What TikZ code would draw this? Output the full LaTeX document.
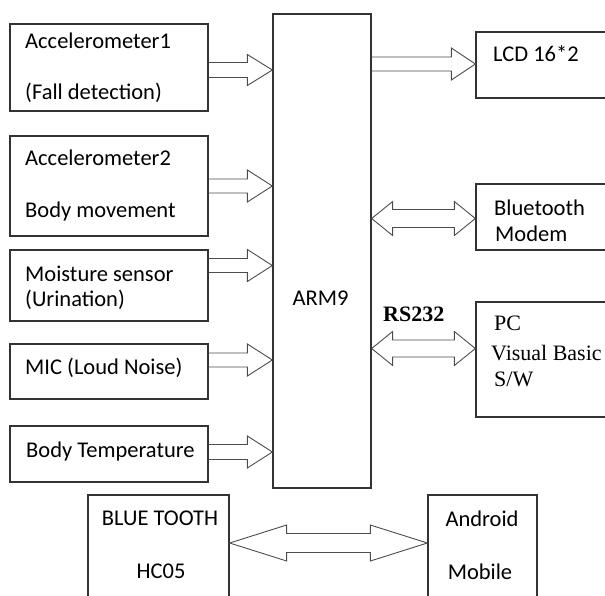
\documentclass[tikz,border=0pt]{standalone}
\usepackage{fontspec}
\setmainfont{Carlito}
\newfontfamily\seriffam{Liberation Serif}
\usetikzlibrary{calc}

\tikzset{
  box/.style={draw=black!80, line width=1.3pt, inner sep=0pt, rectangle},
  lbl/.style={anchor=base west, inner sep=0pt, font=\fontsize{22.5}{26}\selectfont},
  clbl/.style={anchor=base, inner sep=0pt, font=\fontsize{22.5}{26}\selectfont},
  slbl/.style={anchor=base west, inner sep=0pt, font=\seriffam\fontsize{22}{26}\selectfont},
  arr/.style={draw=black!70, line width=0.9pt, line join=miter},
}

% single block arrow: start, end, shaft half, head half, head length
\newcommand{\sarrow}[5]{%
  \draw[arr] let \p1=(#1), \p2=(#2) in
    (\x1,\y1+#3pt) -- (\x2-#5pt,\y1+#3pt) -- (\x2-#5pt,\y1+#4pt) -- (\x2,\y1)
    -- (\x2-#5pt,\y1-#4pt) -- (\x2-#5pt,\y1-#3pt) -- (\x1,\y1-#3pt);}
% double block arrow
\newcommand{\darrow}[5]{%
  \draw[arr] let \p1=(#1), \p2=(#2) in
    (\x1,\y1) -- (\x1+#5pt,\y1+#4pt) -- (\x1+#5pt,\y1+#3pt) -- (\x2-#5pt,\y1+#3pt)
    -- (\x2-#5pt,\y1+#4pt) -- (\x2,\y1) -- (\x2-#5pt,\y1-#4pt) -- (\x2-#5pt,\y1-#3pt)
    -- (\x1+#5pt,\y1-#3pt) -- (\x1+#5pt,\y1-#4pt) -- cycle;}

\begin{document}
\begin{tikzpicture}[x=1pt, y=-1pt]
\useasboundingbox (0,0) rectangle (605,595);
\clip (0,0) rectangle (605,595);

% boxes
\node[box, minimum width=198pt, minimum height=87pt]  (b1)  at (109,67.5) {};
\node[box, minimum width=198pt, minimum height=100pt] (b2)  at (109,186) {};
\node[box, minimum width=198pt, minimum height=71pt]  (b3)  at (109,285.5) {};
\node[box, minimum width=198pt, minimum height=55pt]  (b4)  at (109,371.5) {};
\node[box, minimum width=198pt, minimum height=56pt]  (b5)  at (109,454) {};
\node[box, minimum width=98pt,  minimum height=474pt] (arm) at (322,251) {};
\node[box, minimum width=144pt, minimum height=66pt]  (lcd) at (548,65) {};
\node[box, minimum width=144pt, minimum height=66pt]  (btm) at (548,217) {};
\node[box, minimum width=144pt, minimum height=115pt] (pc)  at (548,359.5) {};
\node[box, minimum width=141pt, minimum height=115pt] (bt)  at (158.5,552.5) {};
\node[box, minimum width=109pt, minimum height=115pt] (and) at (482.5,552.5) {};

% texts
\node[lbl] (t1a) at (25,48.5) {Accelerometer1};
\node[lbl] (t1b) at (25,99.5) {(Fall detection)};
\node[lbl] (t2a) at (25,165.5) {Accelerometer2};
\node[lbl] (t2b) at (25,217) {Body movement};
\node[lbl] (t3a) at (25,281.5) {Moisture sensor};
\node[lbl] (t3b) at (25,306.5) {(Urination)};
\node[lbl] (t4)  at (25,374) {MIC (Loud Noise)};
\node[lbl] (t5)  at (26,457) {Body Temperature};
\node[clbl] (tarm) at (320.5,305) {ARM9};
\node[lbl] (tlcd) at (493,61.5) {LCD 16*2};
\node[lbl] (tbm1) at (494,215.5) {Bluetooth};
\node[lbl] (tbm2) at (495,241.5) {Modem};
\node[slbl] (tpc1) at (494,330.5) {PC};
\node[slbl] (tpc2) at (491,360) {Visual Basic};
\node[slbl] (tpc3) at (494,386.5) {S/W};
\node[slbl, font=\seriffam\bfseries\fontsize{22}{26}\selectfont] (rs) at (383,321.5) {RS232};
\node[clbl] (tbt1) at (160,525.5) {BLUE TOOTH};
\node[clbl] (tbt2) at (161,578.5) {HC05};
\node[clbl] (tan1) at (482,526.5) {Android};
\node[clbl] (tan2) at (480,579.5) {Mobile};

% arrows
\sarrow{b1.east |- 0,70}{arm.west |- 0,70}{7.5}{15.5}{25}
\sarrow{b2.east |- 0,186}{arm.west |- 0,186}{7}{16}{25}
\sarrow{b3.east |- 0,265.5}{arm.west |- 0,265.5}{7}{16}{25}
\sarrow{b4.east |- 0,360}{arm.west |- 0,360}{7}{16}{25}
\sarrow{b5.east |- 0,452}{arm.west |- 0,452}{7.5}{16}{25}
\sarrow{arm.east |- 0,64}{lcd.west |- 0,64}{7}{16}{24}
\darrow{arm.east |- 0,218.5}{btm.west |- 0,218.5}{9}{17}{21}
\darrow{arm.east |- 0,348.5}{pc.west |- 0,348.5}{8.5}{17}{21}
\darrow{bt.east |- 0,543}{and.west |- 0,543}{9.5}{18}{57}
\end{tikzpicture}
\end{document}
